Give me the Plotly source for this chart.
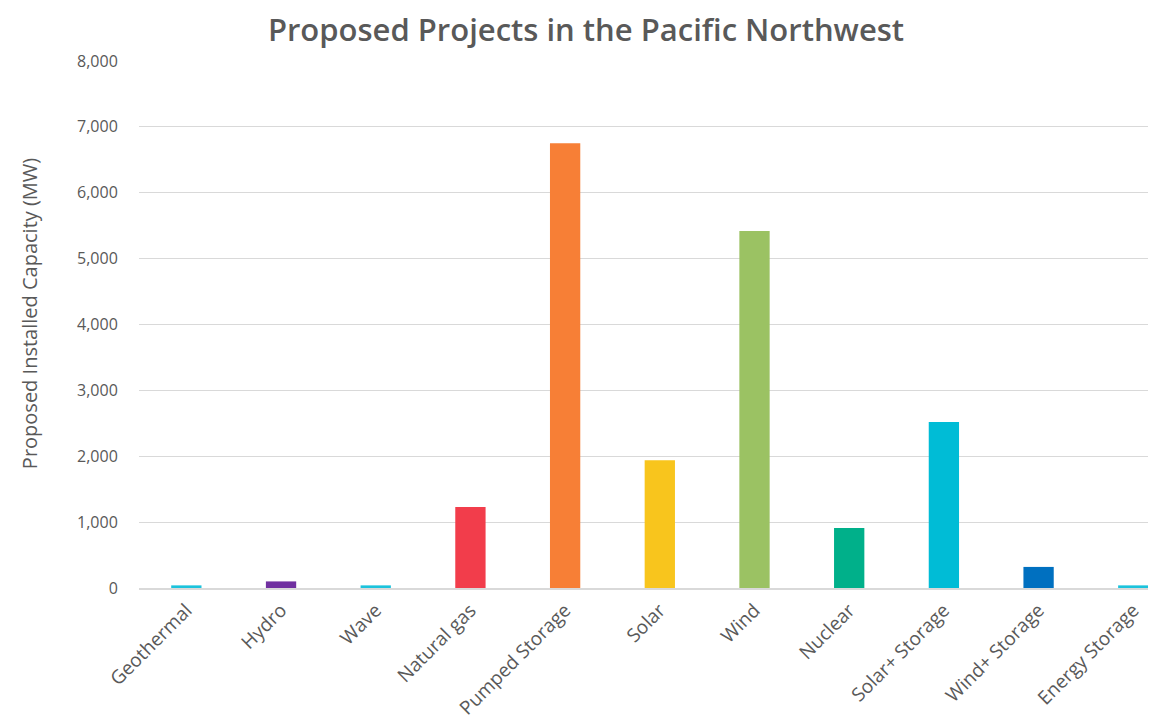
import plotly.graph_objects as go

categories = ["Geothermal", "Hydro", "Wave", "Natural gas", "Pumped Storage", "Solar",
              "Wind", "Nuclear", "Solar+ Storage", "Wind+ Storage", "Energy Storage"]
capacity_mw = [40, 100, 40, 1230, 6750, 1940, 5420, 910, 2520, 320, 40]
bar_colors = ["#1cc3dc", "#7030a0", "#1cc3dc", "#f23d4b", "#f77f36", "#f8c51d",
              "#9bc263", "#00b08a", "#00bcd6", "#0070c0", "#1cc3dc"]
y_ticks = [0, 1000, 2000, 3000, 4000, 5000, 6000, 7000, 8000]

fig = go.Figure(go.Bar(
    x=categories, y=capacity_mw,
    marker=dict(color=bar_colors, line=dict(width=0)),
))

fig.update_layout(
    width=1156, height=727,
    margin=dict(l=131, r=8, t=53, b=147),
    paper_bgcolor="white", plot_bgcolor="white",
    bargap=0.68,
    showlegend=False,
    font=dict(family="Open Sans, DejaVu Sans", color="#595959"),
    title=dict(text="Proposed Projects in the Pacific Northwest",
               x=0.5, xanchor="center", y=0.97, yanchor="middle",
               font=dict(size=31, color="#595959", family="Open Sans", weight=600)),
    annotations=[dict(
        text="Proposed Installed Capacity (MW)", textangle=-90,
        xref="paper", yref="paper", x=-0.107, y=0.52,
        xanchor="center", yanchor="middle", showarrow=False,
        font=dict(size=20, color="#595959"),
    )],
)
fig.update_xaxes(
    range=[-0.5, 10.24], tickangle=-45, tickfont=dict(size=19, color="#595959"),
    showline=True, linecolor="#d9d9d9", linewidth=1.5, ticks="outside",
    ticklen=2, tickcolor="white", showgrid=False, automargin=False,
)
fig.update_yaxes(
    range=[0, 8000], tickvals=y_ticks, tickformat=",",
    tickfont=dict(size=16, color="#595959"),
    gridcolor="#d9d9d9", gridwidth=1, zeroline=False, showline=False,
    ticklen=17, tickcolor="white", ticks="outside", automargin=False,
)

fig.write_html("out.html")
